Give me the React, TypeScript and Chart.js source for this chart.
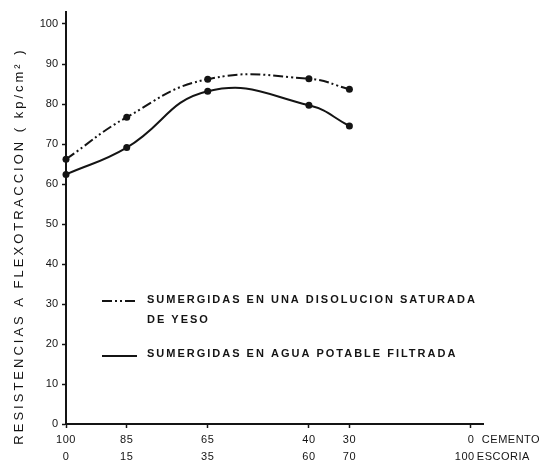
import React, { useEffect, useRef } from "react";
import { Chart, registerables } from "chart.js";

Chart.register(...registerables);

const escoria = [0, 15, 35, 60, 70];
const yesoValues = [66.2, 76.7, 86.2, 86.3, 83.7];
const aguaValues = [62.4, 69.1, 83.2, 79.7, 74.5];
const xTickValues = [0, 15, 35, 60, 70, 100];
const cementoLabels = ["100", "85", "65", "40", "30", "0"];
const escoriaLabels = ["0", "15", "35", "60", "70", "100"];
const yTickValues = [0, 10, 20, 30, 40, 50, 60, 70, 80, 90, 100];
const yTitle = "RESISTENCIAS A FLEXOTRACCION ( kp/cm\u00B2 )";
const legendYeso = ["SUMERGIDAS EN UNA DISOLUCION SATURADA", "DE YESO"];
const legendAgua = "SUMERGIDAS EN AGUA POTABLE FILTRADA";

const INK = "#141414";
const FONT = "'Liberation Sans', Arial, sans-serif";

const overlay = {
  id: "overlay",
  afterDraw(chart: any) {
    const ctx = chart.ctx as CanvasRenderingContext2D;
    const x = chart.scales.x;
    ctx.save();
    ctx.fillStyle = INK;
    ctx.strokeStyle = INK;
    // X axis labels
    ctx.font = `11px ${FONT}`;
    ctx.textBaseline = "middle";
    (ctx as any).letterSpacing = "0.5px";
    xTickValues.forEach((v, i) => {
      const px = x.getPixelForValue(v);
      if (v === 100) {
        ctx.textAlign = "left";
        ctx.fillText(cementoLabels[i], px - 3, 440);
        ctx.fillText("CEMENTO", px + 11, 440);
        ctx.fillText(escoriaLabels[i], px - 16, 457);
        ctx.fillText("ESCORIA", px + 6, 457);
      } else {
        ctx.textAlign = "center";
        ctx.fillText(cementoLabels[i], px, 440);
        ctx.fillText(escoriaLabels[i], px, 457);
      }
    });
    // Y title
    ctx.save();
    ctx.translate(19, 246);
    ctx.rotate(-Math.PI / 2);
    ctx.textAlign = "center";
    ctx.font = `13px ${FONT}`;
    (ctx as any).letterSpacing = "3px";
    ctx.fillText(yTitle, 0, 0);
    ctx.restore();
    // Legend
    ctx.font = `bold 11px ${FONT}`;
    (ctx as any).letterSpacing = "2px";
    ctx.textAlign = "left";
    ctx.lineWidth = 2;
    ctx.setLineDash([10, 3, 2, 3, 2, 3]);
    ctx.beginPath();
    ctx.moveTo(102, 301);
    ctx.lineTo(137, 301);
    ctx.stroke();
    ctx.setLineDash([]);
    ctx.beginPath();
    ctx.moveTo(102, 356);
    ctx.lineTo(137, 356);
    ctx.stroke();
    ctx.fillText(legendYeso[0], 147, 300);
    ctx.fillText(legendYeso[1], 147, 320);
    ctx.fillText(legendAgua, 147, 354);
    ctx.restore();
  },
};

export default function App() {
  const ref = useRef<HTMLCanvasElement>(null);
  useEffect(() => {
    if (!ref.current) return;
    const chart = new Chart(ref.current, {
      type: "line",
      data: {
        datasets: [
          {
            label: legendYeso.join(" "),
            data: escoria.map((e, i) => ({ x: e, y: yesoValues[i] })),
            borderColor: INK,
            backgroundColor: INK,
            borderWidth: 2,
            borderDash: [10, 3, 2, 3, 2, 3],
            pointRadius: 3.5,
            pointBorderWidth: 0,
            tension: 0.45,
            clip: false,
          },
          {
            label: legendAgua,
            data: escoria.map((e, i) => ({ x: e, y: aguaValues[i] })),
            borderColor: INK,
            backgroundColor: INK,
            borderWidth: 2,
            pointRadius: 3.5,
            pointBorderWidth: 0,
            tension: 0.45,
            clip: false,
          },
        ],
      },
      options: {
        animation: false,
        responsive: false,
        layout: { padding: { top: 12, right: 64, left: 0, bottom: 0 } },
        plugins: { legend: { display: false }, tooltip: { enabled: false } },
        scales: {
          x: {
            type: "linear",
            min: 0,
            max: 103,
            afterBuildTicks: (s: any) => {
              s.ticks = xTickValues.map((v) => ({ value: v }));
            },
            afterFit: (s: any) => {
              s.height = 42;
            },
            ticks: { display: false },
            grid: {
              drawOnChartArea: false,
              drawTicks: true,
              tickLength: 4,
              tickColor: INK,
              tickWidth: 1.5,
            },
            border: { color: INK, width: 2 },
          },
          y: {
            min: 0,
            max: 103,
            afterBuildTicks: (s: any) => {
              s.ticks = yTickValues.map((v) => ({ value: v }));
            },
            afterFit: (s: any) => {
              s.width = 66;
            },
            ticks: {
              color: INK,
              font: { family: FONT, size: 11 },
              padding: 4,
            },
            grid: {
              drawOnChartArea: false,
              drawTicks: true,
              tickLength: 4,
              tickColor: INK,
              tickWidth: 1.5,
            },
            border: { color: INK, width: 2 },
          },
        },
      },
      plugins: [overlay],
    } as any);
    return () => chart.destroy();
  }, []);
  return (
    <div style={{ position: "fixed", left: 0, top: 0, width: 547, height: 466, background: "#fff" }}>
      <canvas ref={ref} width={547} height={466} />
    </div>
  );
}
